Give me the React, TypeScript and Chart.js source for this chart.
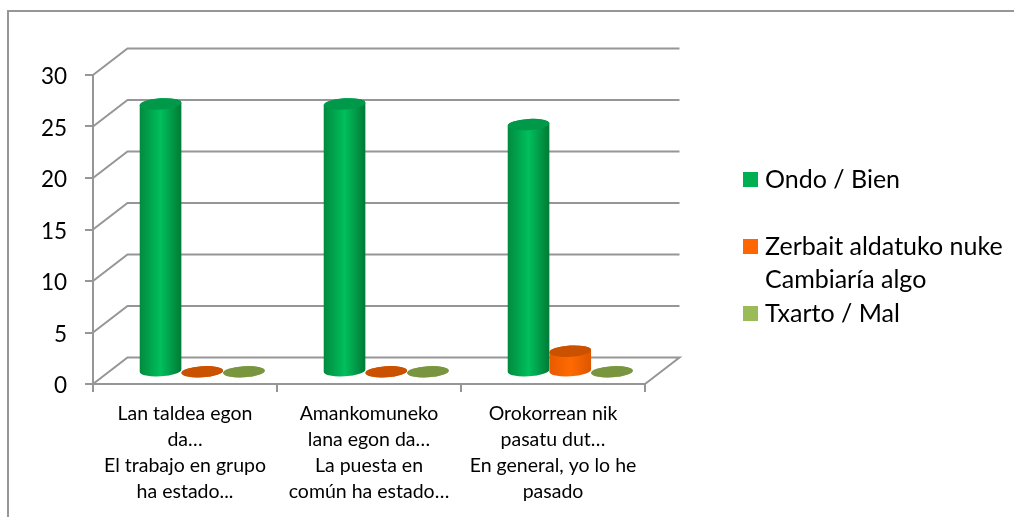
import React, { useEffect, useRef } from "react";
import { Chart, registerables } from "chart.js";

Chart.register(...registerables);

const categories = [
  ["Lan taldea egon", "da…", "El trabajo en grupo", "ha estado..."],
  ["Amankomuneko", "lana egon da…", "La puesta en", "común ha estado…"],
  ["Orokorrean nik", "pasatu dut…", "En general, yo lo he", "pasado"],
];
const ondoValues = [26, 26, 24];
const aldatuValues = [0, 0, 2];
const txartoValues = [0, 0, 0];
const seriesLabels = [["Ondo / Bien", ""], ["Zerbait aldatuko nuke", "Cambiaría algo"], ["Txarto / Mal"]];
const seriesColors = ["#00B050", "#FF6600", "#9BBB59"];
const bodyStops = [
  ["#008A3E", "#00BF5C", "#007A36"],
  ["#E85A00", "#FF6A00", "#DE5600"],
  ["#8CA850", "#A5C563", "#7F9A48"],
];
const capColors = ["#00994A", "#C95100", "#7A9540"];
const yTicks = { min: 0, max: 30, step: 5 };

const GRID = "#969696";
const DX = 34.5;
const DY = 26.5;
const FONT = "Lato, Carlito, Calibri, sans-serif";

const chrome = {
  id: "chrome",
  beforeDraw(chart: any) {
    const { ctx } = chart;
    ctx.save();
    ctx.strokeStyle = GRID;
    ctx.lineWidth = 2;
    ctx.beginPath();
    ctx.moveTo(8, 517);
    ctx.lineTo(8, 11);
    ctx.lineTo(1014, 11);
    ctx.stroke();
    ctx.restore();
  },
  afterLayout(chart: any) {
    const l = chart.legend;
    l.left = 752.5;
    l.right = 1014;
    l.top = 167;
    l.bottom = 345;
    l.adjustHitBoxes();
  },
  beforeDatasetsDraw(chart: any) {
    const { ctx, chartArea, scales } = chart;
    const { left, right, bottom } = chartArea;
    ctx.save();
    ctx.strokeStyle = GRID;
    ctx.lineWidth = 2;
    ctx.lineJoin = "miter";
    for (const t of scales.y.ticks) {
      const y = scales.y.getPixelForValue(t.value);
      ctx.beginPath();
      ctx.moveTo(left, y);
      ctx.lineTo(left + DX, y - DY);
      ctx.lineTo(right + DX, y - DY);
      if (t.value === 0) ctx.lineTo(right, bottom);
      ctx.stroke();
    }
    const rot = (-3.5 * Math.PI) / 180;
    const ry = 5.6;
    chart.data.datasets.forEach((_: any, di: number) => {
      const meta = chart.getDatasetMeta(di);
      meta.data.forEach((bar: any) => {
        const { x, y, base, width } = bar.getProps(["x", "y", "base", "width"], true);
        const cx = x + DX / 2;
        const top = y - DY / 2 + 1;
        const bot = base - DY / 2 + 1;
        const rx = width / 2;
        const g = ctx.createLinearGradient(cx - rx, 0, cx + rx, 0);
        g.addColorStop(0, bodyStops[di][0]);
        g.addColorStop(0.5, bodyStops[di][1]);
        g.addColorStop(1, bodyStops[di][2]);
        ctx.fillStyle = g;
        ctx.beginPath();
        ctx.ellipse(cx, bot, rx, ry, rot, Math.PI, 0, true);
        ctx.ellipse(cx, top, rx, ry, rot, 0, Math.PI, true);
        ctx.closePath();
        ctx.fill();
        ctx.fillStyle = capColors[di];
        ctx.beginPath();
        ctx.ellipse(cx, top, rx, ry, rot, 0, Math.PI * 2);
        ctx.fill();
      });
    });
    ctx.restore();
    return false;
  },
  afterDraw(chart: any) {
    const { ctx, legend } = chart;
    ctx.save();
    legend.legendItems.forEach((item: any, i: number) => {
      ctx.fillStyle = item.fillStyle;
      ctx.fillRect(743, legend.legendHitBoxes[i].top + 5, 15, 15);
    });
    ctx.restore();
  },
};

export default function App() {
  const ref = useRef<HTMLCanvasElement>(null);
  useEffect(() => {
    const chart = new Chart(ref.current as HTMLCanvasElement, {
      type: "bar",
      data: {
        labels: categories as any,
        datasets: [
          { label: seriesLabels[0] as any, data: ondoValues, backgroundColor: seriesColors[0] },
          { label: seriesLabels[1] as any, data: aldatuValues, backgroundColor: seriesColors[1] },
          { label: seriesLabels[2] as any, data: txartoValues, backgroundColor: seriesColors[2] },
        ],
      },
      plugins: [chrome],
      options: {
        responsive: false,
        animation: false,
        layout: { padding: { top: 75, left: 0, right: 369, bottom: 0 } },
        datasets: { bar: { categoryPercentage: 0.68, barPercentage: 1 } },
        plugins: {
          tooltip: { enabled: false },
          legend: {
            position: "chartArea" as any,
            align: "start",
            labels: {
              boxWidth: 0,
              boxHeight: 15,
              padding: 0,
              color: "#000",
              font: { family: FONT, size: 25, lineHeight: 33.5 / 25 },
            },
          },
        },
        scales: {
          x: {
            afterFit: (s: any) => { s.height = 133; },
            border: { color: GRID, width: 2 },
            grid: { drawOnChartArea: false, color: GRID, lineWidth: 2, tickLength: 8 },
            ticks: {
              autoSkip: false,
              maxRotation: 0,
              padding: 9,
              color: "#000",
              font: { family: FONT, size: 19.5, lineHeight: 26 / 19.5 },
            },
          },
          y: {
            min: yTicks.min,
            max: yTicks.max,
            afterFit: (s: any) => { s.width = 93; },
            border: { color: GRID, width: 2 },
            grid: { drawOnChartArea: false, color: GRID, lineWidth: 2, tickLength: 8 },
            ticks: {
              stepSize: yTicks.step,
              padding: 18,
              labelOffset: 2,
              color: "#000",
              font: { family: FONT, size: 22.5 },
            },
          },
        },
      },
    });
    return () => chart.destroy();
  }, []);
  return (
    <div style={{ position: "absolute", left: 0, top: 0, width: 1014, height: 517 }}>
      <canvas ref={ref} width={1014} height={517} style={{ display: "block" }} />
    </div>
  );
}
